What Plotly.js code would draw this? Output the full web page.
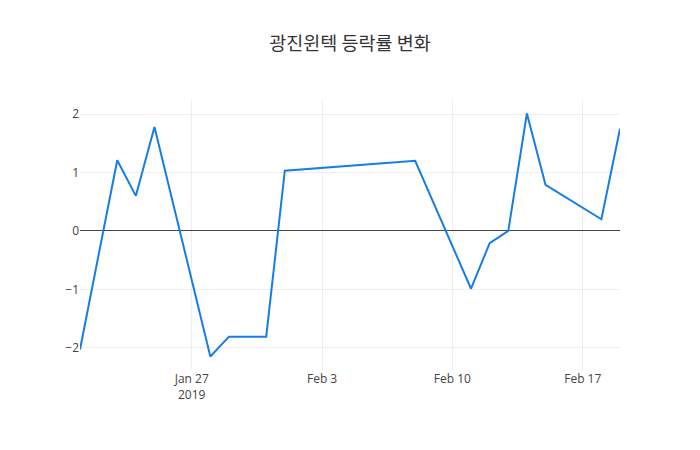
<!DOCTYPE html>
<html>
<head>
<meta charset="utf-8">
<script src="https://cdn.plot.ly/plotly-3.0.1.min.js"></script>
<style>html,body{margin:0;padding:0;background:#fff;}#chart{width:700px;height:450px;}</style>
</head>
<body>
<div id="chart"></div>
<script>
var dates = ["2019-01-21","2019-01-23","2019-01-24","2019-01-25","2019-01-28","2019-01-29","2019-01-31","2019-02-01","2019-02-08","2019-02-11","2019-02-12","2019-02-13","2019-02-14","2019-02-15","2019-02-18","2019-02-19"];
var changes = [-2.03, 1.21, 0.60, 1.78, -2.15, -1.81, -1.81, 1.03, 1.20, -0.99, -0.21, 0.00, 2.01, 0.79, 0.20, 1.75];
var titleText = "광진윈텍 등락률 변화";

Plotly.newPlot("chart", [{
  x: dates,
  y: changes,
  type: "scatter",
  mode: "lines",
  line: {color: "rgb(22,125,230)", width: 2}
}], {
  width: 700,
  height: 450,
  title: {text: titleText, font: {family: "Noto Sans CJK KR, Open Sans, sans-serif", size: 18.5, color: "#333"}},
  font: {family: "Open Sans, Noto Sans CJK KR, sans-serif", color: "#444"},
  xaxis: {type: "date", gridcolor: "#eee", showline: false},
  yaxis: {gridcolor: "#eee", zeroline: true, zerolinecolor: "#444", zerolinewidth: 1},
  paper_bgcolor: "#fff",
  plot_bgcolor: "#fff",
  showlegend: false
}, {displayModeBar: false});
</script>
</body>
</html>
